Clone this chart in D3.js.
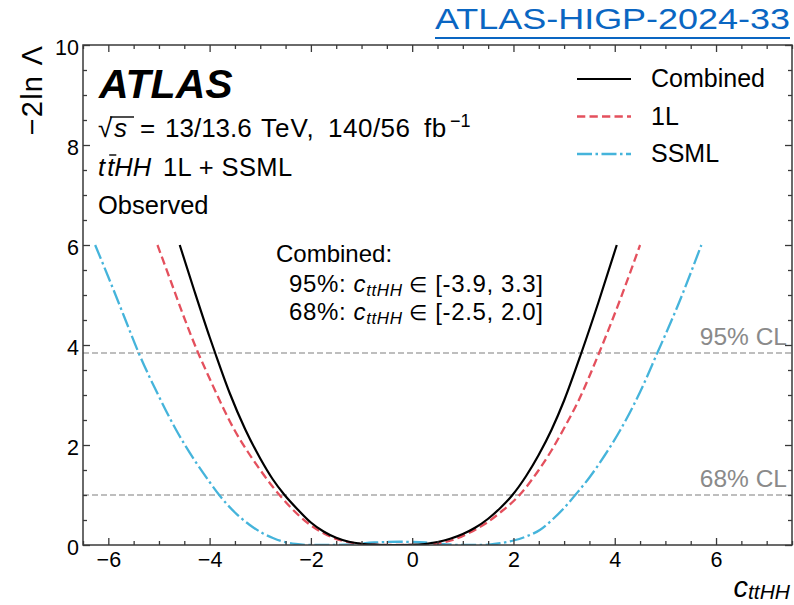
<!DOCTYPE html>
<html><head><meta charset="utf-8">
<script src="https://cdn.jsdelivr.net/npm/d3@7"></script>
<style>
body{margin:0;background:#fff}
svg{display:block}
text{font-family:"Liberation Sans",Arial,Helvetica,sans-serif}
</style>
</head><body>
<svg id="chart" width="794" height="605"></svg>
<script>
// ---------- data ----------
const xTicksMajor = [-6, -4, -2, 0, 2, 4, 6];
const yTicksMajor = [0, 2, 4, 6, 8, 10];
const clLevels = [3.84, 1.0];
const clLabels = ["95% CL", "68% CL"];
const seriesNames = ["Combined", "1L", "SSML"];

const combinedX = [-4.59,-4.3,-4.0,-3.89,-3.6,-3.3,-3.0,-2.75,-2.52,-2.25,-2.0,-1.75,-1.5,-1.25,-1.0,-0.75,-0.5,-0.25,0,0.25,0.5,0.75,1.0,1.25,1.5,1.75,1.98,2.25,2.5,2.75,3.0,3.34,3.68,4.04];
const combinedY = [6.0,5.08,4.16,3.84,3.03,2.32,1.73,1.31,1.0,0.70,0.45,0.27,0.145,0.065,0.025,0.008,0.0,0.0,0.003,0.02,0.06,0.125,0.22,0.35,0.525,0.75,1.0,1.38,1.805,2.3,2.89,3.84,4.86,6.0];

const oneLX = [-5.03,-4.75,-4.5,-4.23,-4.0,-3.75,-3.52,-3.25,-3.0,-2.75,-2.62,-2.35,-2.05,-1.75,-1.42,-1.1,-0.75,-0.25,0.25,0.5,0.8,1.1,1.45,1.75,2.12,2.5,2.75,2.98,3.3,3.69,4.1,4.5];
const oneLY = [6.0,5.23,4.54,3.85,3.33,2.78,2.32,1.87,1.50,1.16,1.0,0.70,0.43,0.235,0.096,0.03,0.005,0.0,0.0,0.03,0.1,0.23,0.43,0.66,1.0,1.5,1.89,2.3,2.92,3.84,4.89,6.0];

const ssmlX = [-6.26,-6.0,-5.7,-5.4,-5.0,-4.66,-4.3,-4.0,-3.81,-3.5,-3.22,-2.96,-2.75,-2.56,-2.3,-2.0,-1.5,-1.2,-1.0,-0.75,-0.5,-0.25,0,0.25,0.5,0.75,1.0,1.4,1.7,2.0,2.25,2.52,2.76,3.0,3.22,3.5,3.8,4.11,4.5,4.84,5.25,5.71];
const ssmlY = [6.0,5.36,4.6,3.84,2.97,2.3,1.7,1.26,1.0,0.65,0.41,0.24,0.14,0.07,0.02,0.0,0.0,0.01,0.03,0.05,0.06,0.065,0.06,0.05,0.03,0.01,0.0,0.0,0.03,0.09,0.17,0.3,0.5,0.74,1.0,1.35,1.79,2.3,3.06,3.84,4.8,6.0];

// ---------- layout ----------
const L = 83, R = 792, T = 45, B = 545;
const svg = d3.select("#chart");
const x = d3.scaleLinear().domain([-6.5, 7.5]).range([L, R]);
const y = d3.scaleLinear().domain([0, 10]).range([B, T]);

const xMinor = d3.range(-6.5, 7.51, 0.5).filter(v => !xTicksMajor.includes(v));
const yMinor = d3.range(0, 10.01, 0.5).filter(v => !yTicksMajor.includes(v));
const axisColor = "#3a3a3a";

// CL lines
svg.append("g").selectAll("line").data(clLevels).join("line")
  .attr("x1", L).attr("x2", R)
  .attr("y1", d => y(d)).attr("y2", d => y(d))
  .attr("stroke", "#7f7f7f").attr("stroke-width", 1.2)
  .attr("stroke-dasharray", "6,3");

svg.append("g").selectAll("text").data(clLabels).join("text")
  .attr("x", 787).attr("y", (d, i) => y(clLevels[i]) - 8)
  .attr("text-anchor", "end").attr("font-size", 24.5)
  .attr("fill", "#8a8a8a").text(d => d);

// curves
svg.append("defs").append("clipPath").attr("id", "clip")
  .append("rect").attr("x", L).attr("y", T).attr("width", R - L).attr("height", B - T);

const line = d3.line().x(d => x(d[0])).y(d => y(d[1])).curve(d3.curveMonotoneX);
const series = [
  {name: seriesNames[2], xs: ssmlX, ys: ssmlY, color: "#45b4db", dash: "15,3.5,2.5,3.5", w: 2.3},
  {name: seriesNames[1], xs: oneLX, ys: oneLY, color: "#e4505d", dash: "8.3,4.2", w: 2.3},
  {name: seriesNames[0], xs: combinedX, ys: combinedY, color: "#000000", dash: null, w: 2.2}
];
const gC = svg.append("g").attr("clip-path", "url(#clip)");
series.forEach(s => {
  gC.append("path")
    .datum(s.xs.map((v, i) => [v, s.ys[i]]))
    .attr("d", line).attr("fill", "none")
    .attr("stroke", s.color).attr("stroke-width", s.w)
    .attr("stroke-dasharray", s.dash);
});

// axes
function styleAxis(g) {
  g.select(".domain").remove();
  g.selectAll(".tick line").attr("stroke", axisColor).attr("stroke-width", 1.3);
  g.selectAll("text").attr("font-size", 21.5).attr("fill", "#000")
    .attr("font-family", '"Liberation Sans",Arial,sans-serif');
}
svg.append("g").attr("transform", `translate(0,${B})`)
  .call(d3.axisBottom(x).tickValues(xTicksMajor).tickSize(-7).tickPadding(7)).call(styleAxis);
svg.append("g").attr("transform", `translate(0,${B})`)
  .call(d3.axisBottom(x).tickValues(xMinor).tickSize(-4).tickFormat("")).call(styleAxis);
svg.append("g").attr("transform", `translate(0,${T})`)
  .call(d3.axisTop(x).tickValues(xTicksMajor).tickSize(-7).tickFormat("")).call(styleAxis);
svg.append("g").attr("transform", `translate(0,${T})`)
  .call(d3.axisTop(x).tickValues(xMinor).tickSize(-4).tickFormat("")).call(styleAxis);

const gl = svg.append("g").attr("transform", `translate(${L},0)`)
  .call(d3.axisLeft(y).tickValues(yTicksMajor).tickSize(-7).tickPadding(4)).call(styleAxis);
gl.selectAll("text").attr("dy", "0.43em");
svg.append("g").attr("transform", `translate(${L},0)`)
  .call(d3.axisLeft(y).tickValues(yMinor).tickSize(-4).tickFormat("")).call(styleAxis);
svg.append("g").attr("transform", `translate(${R},0)`)
  .call(d3.axisRight(y).tickValues(yTicksMajor).tickSize(-7).tickFormat("")).call(styleAxis);
svg.append("g").attr("transform", `translate(${R},0)`)
  .call(d3.axisRight(y).tickValues(yMinor).tickSize(-4).tickFormat("")).call(styleAxis);

svg.append("rect").attr("x", L).attr("y", T).attr("width", R - L).attr("height", B - T)
  .attr("fill", "none").attr("stroke", axisColor).attr("stroke-width", 1.5);

// axis labels
svg.append("text").attr("transform", `translate(42,${T}) rotate(-90)`)
  .attr("text-anchor", "end").attr("font-size", 29).attr("letter-spacing", 1.2)
  .text("\u22122ln \u039B");

const xl = svg.append("text").attr("x", 790).attr("y", 597).attr("text-anchor", "end");
xl.append("tspan").attr("font-size", 29).attr("font-style", "italic").text("c");
xl.append("tspan").attr("font-size", 21).attr("font-style", "italic").attr("dy", 2).text("ttHH");

// ATLAS label block
svg.append("text").attr("x", 99).attr("y", 98).attr("font-size", 41)
  .attr("font-weight", "bold").attr("font-style", "italic").text("ATLAS");

const fs = 25.5;
const t2 = svg.append("text").attr("y", 137).attr("font-size", 26);
t2.append("tspan").attr("x", 98).text("\u221A");
t2.append("tspan").attr("x", 114).attr("font-style", "italic").text("s");
t2.append("tspan").attr("x", 140).text("=");
t2.append("tspan").attr("x", 165).text("13/13.6");
t2.append("tspan").attr("x", 261).attr("letter-spacing", 1).text("TeV,");
t2.append("tspan").attr("x", 328).attr("letter-spacing", 0.5).text("140/56");
t2.append("tspan").attr("x", 424).attr("letter-spacing", 0.5).text("fb");
t2.append("tspan").attr("x", 450).attr("font-size", 18).attr("dy", -10).text("\u22121");
svg.append("line").attr("x1", 110).attr("x2", 134).attr("y1", 117).attr("y2", 117)
  .attr("stroke", "#000").attr("stroke-width", 1.4);

const t3 = svg.append("text").attr("y", 176).attr("font-size", fs);
t3.append("tspan").attr("x", 98).attr("font-style", "italic").text("t\u200At");
t3.append("tspan").attr("font-style", "italic").text("HH");
t3.append("tspan").attr("x", 163).attr("letter-spacing", 0.4).text("1L + SSML");
{
  const n = t3.node();
  const a = n.getStartPositionOfChar(2).x, b = n.getEndPositionOfChar(2).x;
  svg.append("line").attr("x1", a + 2).attr("x2", b + 2).attr("y1", 155).attr("y2", 155)
    .attr("stroke", "#000").attr("stroke-width", 1.4);
}

svg.append("text").attr("x", 98).attr("y", 214).attr("font-size", fs).text("Observed");

// legend
const legY = [79, 116.5, 154];
series.slice().reverse().forEach((s, i) => {
  svg.append("line").attr("x1", 577).attr("x2", 631).attr("y1", legY[i]).attr("y2", legY[i])
    .attr("stroke", s.color).attr("stroke-width", s.w).attr("stroke-dasharray", s.dash);
  svg.append("text").attr("x", 651).attr("y", legY[i] + 8).attr("font-size", 25).text(s.name);
});

// annotation
svg.append("text").attr("x", 276).attr("y", 262).attr("font-size", 24).text("Combined:");
const intervals = [["95%: ", "[-3.9, 3.3]"], ["68%: ", "[-2.5, 2.0]"]];
intervals.forEach((iv, i) => {
  const t = svg.append("text").attr("x", 289).attr("y", 291.5 + i * 28.5).attr("font-size", 24)
    .attr("textLength", 254).attr("lengthAdjust", "spacing");
  t.append("tspan").text(iv[0]);
  t.append("tspan").attr("font-style", "italic").text("c");
  t.append("tspan").attr("font-style", "italic").attr("font-size", 17).attr("dy", 4).text("ttHH");
  t.append("tspan").attr("dy", -4).attr("dx", 6).attr("font-size", 21).text("\u2208");
  t.append("tspan").attr("dx", 8).text(iv[1]);
});

// title
svg.append("text").attr("x", 790).attr("y", 29).attr("text-anchor", "end")
  .attr("font-family", '"Noto Sans","Open Sans",sans-serif')
  .attr("font-size", 29.5).attr("fill", "#0a66c2")
  .attr("textLength", 355).attr("lengthAdjust", "spacingAndGlyphs")
  .text("ATLAS-HIGP-2024-33");
svg.append("rect").attr("x", 435).attr("y", 37).attr("width", 355).attr("height", 2).attr("fill", "#0a66c2");
</script>
</body></html>
